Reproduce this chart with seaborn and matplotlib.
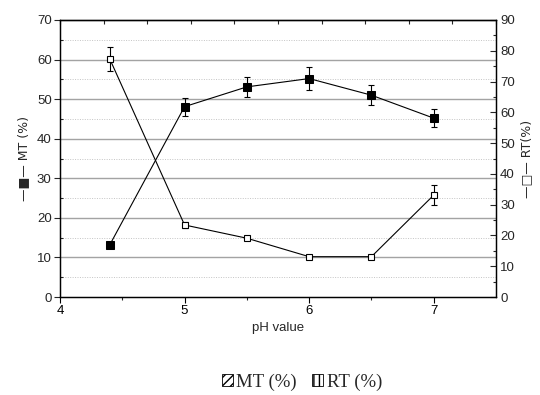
import numpy as np
import pandas as pd
import matplotlib
matplotlib.use("Agg")
import matplotlib.pyplot as plt
from matplotlib.patches import Patch
from matplotlib.ticker import MultipleLocator, FixedLocator
import seaborn as sns

# pH values and measured responses
ph = [4.4, 5.0, 5.5, 6.0, 6.5, 7.0]
mt = [13.2, 48.1, 53.1, 55.2, 51.0, 45.2]
mt_err = [0.4, 2.3, 2.6, 2.8, 2.6, 2.3]
rt = [77.3, 23.4, 19.1, 13.1, 13.1, 33.1]
rt_err = [3.9, 0.9, 0.4, 0.3, 0.3, 3.2]

left_ticks = [0, 10, 20, 30, 40, 50, 60, 70]
right_ticks = [0, 10, 20, 30, 40, 50, 60, 70, 80, 90]
x_ticks = [4, 5, 6, 7]

sns.set_theme(style="ticks")
plt.rcParams["font.family"] = ["Liberation Sans", "DejaVu Sans"]

df = pd.DataFrame({"pH": ph, "MT": mt, "RT": rt})

fs = 9.5
fig = plt.figure(figsize=(5.4, 3.95), dpi=100)
ax = fig.add_axes([60 / 540, 1 - 297 / 395, (496 - 60) / 540, (297 - 20) / 395])
ax2 = ax.twinx()

# grid on the left scale: solid at majors, dotted at minors
for v in range(10, 70, 10):
    ax.axhline(v, color="#a3a3a3", lw=1.0, zorder=0)
for v in range(5, 70, 10):
    ax.axhline(v, color="#c4c4c4", lw=0.7, ls=(0, (1, 1.5)), zorder=0)

sns.lineplot(data=df, x="pH", y="MT", ax=ax, color="black", lw=0.8,
             marker="s", markersize=5.2, markerfacecolor="black",
             markeredgecolor="black", zorder=3)
ax.errorbar(ph, mt, yerr=mt_err, fmt="none", ecolor="black", elinewidth=0.8,
            capsize=2.5, capthick=0.8, zorder=2)

sns.lineplot(data=df, x="pH", y="RT", ax=ax2, color="black", lw=0.8,
             marker="s", markersize=4.4, markerfacecolor="white",
             markeredgecolor="black", markeredgewidth=0.8, zorder=3)
ax2.errorbar(ph, rt, yerr=rt_err, fmt="none", ecolor="black", elinewidth=0.8,
             capsize=2.5, capthick=0.8, zorder=2)

ax.set_xlim(4, 7.5)
ax.set_ylim(0, 70)
ax2.set_ylim(0, 90)

ax.set_xticks(x_ticks)
ax.xaxis.set_minor_locator(FixedLocator([4.5, 5.5, 6.5]))
ax.set_yticks(left_ticks)
ax.yaxis.set_minor_locator(MultipleLocator(5))
ax2.set_yticks(right_ticks)
ax2.yaxis.set_minor_locator(MultipleLocator(5))

ax.tick_params(axis="x", which="major", direction="out", length=4, width=0.8,
               labelsize=fs, pad=2, colors="black")
ax.tick_params(axis="x", which="minor", direction="out", length=2.5, width=0.8)
ax.tick_params(axis="y", which="major", direction="out", length=4, width=0.8,
               labelsize=fs, pad=2)
ax.tick_params(axis="y", which="minor", direction="in", length=2, width=0.8)
ax2.tick_params(axis="y", which="major", direction="in", length=4, width=0.8,
                labelsize=fs, pad=3)
ax2.tick_params(axis="y", which="minor", direction="in", length=2, width=0.8)

# top edge ticks at ten equal divisions
top = ax.secondary_xaxis("top")
top.set_xticks(np.linspace(4, 7.5, 11))
top.tick_params(axis="x", direction="in", length=3, width=0.8, labeltop=False)
top.spines["top"].set_linewidth(0.9)

for a in (ax, ax2):
    for s in a.spines.values():
        s.set_linewidth(0.9)
        s.set_color("black")
        s.set_visible(True)

ax.set_xlabel("pH value", fontsize=fs, labelpad=3)
ax.set_ylabel("—■— MT (%)", fontsize=fs - 0.5, labelpad=5,
              family=["DejaVu Sans"])
ax2.set_ylabel("—□— RT(%)", fontsize=fs - 0.5, labelpad=4,
               family=["DejaVu Sans"])

handles = [Patch(facecolor="white", edgecolor="black", hatch="////", lw=0.6),
           Patch(facecolor="white", edgecolor="black", hatch="|||", lw=0.6)]
fig.legend(handles, ["MT (%)", "RT (%)"], loc="center",
           bbox_to_anchor=(302 / 540, 1 - 382 / 395), ncol=2, frameon=False,
           prop={"family": "Liberation Serif", "size": 13.5},
           handlelength=0.6, handleheight=0.6, handletextpad=0.2,
           columnspacing=0.8, borderpad=0.1)

fig.savefig("out.png", dpi=100)
